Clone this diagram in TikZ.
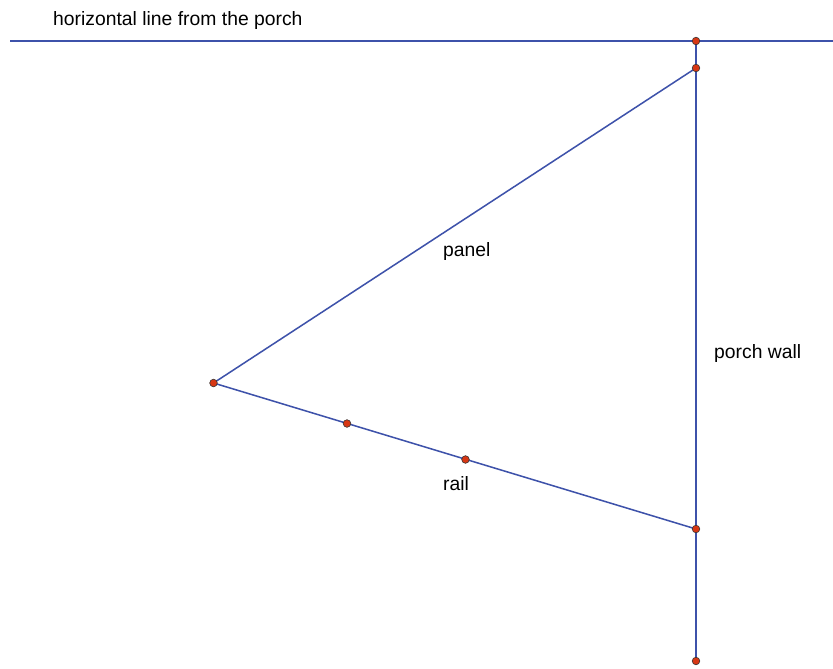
\documentclass[tikz,border=0pt]{standalone}
\usepackage{fontspec}
\setmainfont{Liberation Sans}
\definecolor{lineblue}{RGB}{62,82,170}
\definecolor{pointred}{RGB}{215,55,20}
\usetikzlibrary{positioning, backgrounds}

\begin{document}
\begin{tikzpicture}[
    x=0.03cm, y=-0.03cm,
    pt/.style={circle, fill=pointred, draw=black!80, line width=0.5pt,
      inner sep=0pt, minimum size=6.5pt},
    seg/.style={draw=lineblue, line width=1.3pt},
    lbl/.style={anchor=base west, inner sep=0pt, font=\fontsize{16.5}{19}\selectfont},
  ]
    \useasboundingbox (0,0) rectangle (833,669);
    % points
    \coordinate (hl) at (10,41);
    \coordinate (hr) at (833,41);
    \node[pt] (ptop) at (696,41) {};
    \node[pt] (pa) at (696,68) {};
    \node[pt] (pl) at (213.5,383) {};
    \node[pt] (pr1) at (347,423.5) {};
    \node[pt] (pr2) at (465.5,459.5) {};
    \node[pt] (pb) at (696,529) {};
    \node[pt] (pbot) at (696,661) {};
    % lines
    \begin{scope}[on background layer]
      \path[seg] (hl) -- (hr);
      \path[seg] (ptop.center) -- (pbot.center);
      \path[seg] (pa.center) -- (pl.center);
      \path[seg] (pl.center) -- (pb.center);
    \end{scope}
    % labels
    \node[lbl] (thoriz) at (53,25) {horizontal line from the porch};
    \node[lbl] (tpanel) at (443,256.5) {panel};
    \node[lbl] (twall) at (714,358) {porch wall};
    \node[lbl] (trail) at (443,490) {rail};
\end{tikzpicture}
\end{document}
